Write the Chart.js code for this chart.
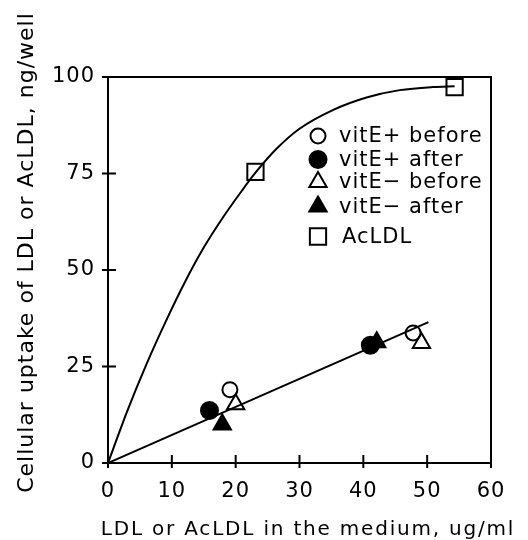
<!DOCTYPE html>
<html>
<head>
<meta charset="utf-8">
<script src="https://cdn.jsdelivr.net/npm/chart.js@4.4.0/dist/chart.umd.min.js"></script>
<style>
  html, body { margin: 0; padding: 0; background: #fff; }
  #wrap { width: 528px; height: 540px; }
</style>
</head>
<body>
<div id="wrap"><canvas id="chart" width="528" height="540"></canvas></div>
<script>
// axis ticks
const xTickValues = [0, 10, 20, 30, 40, 50, 60];
const yTickValues = [0, 25, 50, 75, 100];

const xTitle = "LDL or AcLDL in the medium, ug/ml";
const yTitle = "Cellular uptake of LDL or AcLDL, ng/well";

const legendLabels = ["vitE+ before", "vitE+ after", "vitE\u2212 before", "vitE\u2212 after", "AcLDL"];

const vitEPlusBeforeX = [19.1, 47.8];
const vitEPlusBeforeY = [19.0, 33.7];
const vitEPlusAfterX = [15.9, 41.1];
const vitEPlusAfterY = [13.6, 30.5];
const vitEMinusBeforeX = [20.0, 49.1];
const vitEMinusBeforeY = [15.2, 31.1];
const vitEMinusAfterX = [17.9, 42.1];
const vitEMinusAfterY = [10.0, 31.3];
const acLdlX = [23.1, 54.3];
const acLdlY = [75.4, 97.4];

// fitted lines as drawn in the figure
const ldlFitX = [0, 50.2];
const ldlFitY = [0, 36.5];
const acLdlCurveX = [0, 3, 6, 9, 12, 15, 18, 21, 23.1, 26.4, 30, 35.3, 40.5, 45.7, 50.9, 54.3];
const acLdlCurveY = [0, 13.4, 25.5, 36.5, 46.7, 55.8, 63.6, 70.6, 75.2, 81.4, 86.6, 91.5, 94.7, 96.6, 97.4, 97.6];

const pts = (xs, ys) => xs.map((x, i) => ({ x, y: ys[i] }));

Chart.defaults.font.family = "'DejaVu Sans', sans-serif";
Chart.defaults.color = "#000";

// marker styles shared by the plot and the legend
const markerStyles = [
  { pointStyle: "circle", radius: 7.5, fill: false },
  { pointStyle: "circle", radius: 8.5, fill: true },
  { pointStyle: "triangle", radius: 10, fill: false },
  { pointStyle: "triangle", radius: 10, fill: true },
  { pointStyle: "rect", radius: 11.5, fill: false },
];

const markerSeries = [
  pts(vitEPlusBeforeX, vitEPlusBeforeY),
  pts(vitEPlusAfterX, vitEPlusAfterY),
  pts(vitEMinusBeforeX, vitEMinusBeforeY),
  pts(vitEMinusAfterX, vitEMinusAfterY),
  pts(acLdlX, acLdlY),
];

const markerDatasets = markerSeries.map((data, i) => ({
  label: legendLabels[i],
  data,
  pointStyle: markerStyles[i].pointStyle,
  pointRadius: markerStyles[i].radius,
  pointBackgroundColor: markerStyles[i].fill ? "#000" : "rgba(0,0,0,0)",
  pointBorderColor: "#000",
  pointBorderWidth: 2,
  showLine: false,
}));

const frameAndLegend = {
  id: "frameAndLegend",
  beforeDraw(chart) {
    chart.ctx.letterSpacing = "1px";
  },
  afterDraw(chart) {
    const { ctx, chartArea: a, scales: { x, y } } = chart;
    ctx.save();
    ctx.strokeStyle = "#000";
    ctx.lineWidth = 2;
    ctx.strokeRect(a.left, a.top, a.right - a.left, a.bottom - a.top);

    // ticks crossing the axes
    ctx.beginPath();
    x.ticks.forEach((t) => {
      const px = x.getPixelForValue(t.value);
      ctx.moveTo(px, a.bottom - 8);
      ctx.lineTo(px, a.bottom + 5);
    });
    y.ticks.forEach((t) => {
      const py = y.getPixelForValue(t.value);
      ctx.moveTo(a.left - 6, py);
      ctx.lineTo(a.left + 8, py);
    });
    ctx.stroke();

    // legend inside the plot
    const rows = [136, 159.5, 182, 206.5, 236.5];
    ctx.font = "21px 'DejaVu Sans', sans-serif";
    ctx.textAlign = "left";
    ctx.textBaseline = "middle";
    legendLabels.forEach((label, i) => {
      const s = markerStyles[i];
      ctx.fillStyle = s.fill ? "#000" : "rgba(0,0,0,0)";
      ctx.strokeStyle = "#000";
      ctx.lineWidth = 2;
      Chart.helpers.drawPoint(ctx, { pointStyle: s.pointStyle, radius: s.radius, borderWidth: 2, rotation: 0 }, 318, rows[i]);
      ctx.fillStyle = "#000";
      ctx.fillText(label, i === 4 ? 342 : 339, rows[i] + 1);
    });

    // axis titles
    ctx.textAlign = "center";
    ctx.textBaseline = "alphabetic";
    ctx.letterSpacing = "1.8px";
    ctx.font = "20px 'DejaVu Sans', sans-serif";
    ctx.fillText(xTitle, 308, 535);

    ctx.letterSpacing = "1px";
    ctx.font = "22px 'DejaVu Sans', sans-serif";
    ctx.translate(32.5, 252.5);
    ctx.rotate(-Math.PI / 2);
    ctx.fillText(yTitle, 0, 0);
    ctx.restore();
  },
};

new Chart(document.getElementById("chart"), {
  type: "scatter",
  data: {
    datasets: [
      ...markerDatasets,
      {
        label: "LDL fit",
        data: pts(ldlFitX, ldlFitY),
        showLine: true,
        borderColor: "#000",
        borderWidth: 2,
        pointRadius: 0,
      },
      {
        label: "AcLDL fit",
        data: pts(acLdlCurveX, acLdlCurveY),
        showLine: true,
        cubicInterpolationMode: "monotone",
        borderColor: "#000",
        borderWidth: 2,
        pointRadius: 0,
      },
    ],
  },
  options: {
    responsive: false,
    animation: false,
    devicePixelRatio: 1,
    layout: { padding: { left: 0, right: 37, top: 77, bottom: 0 } },
    plugins: {
      legend: { display: false },
      tooltip: { enabled: false },
    },
    scales: {
      x: {
        type: "linear",
        min: 0,
        max: 60,
        afterBuildTicks: (s) => { s.ticks = xTickValues.map((v) => ({ value: v })); },
        afterFit: (s) => { s.height = 77; },
        ticks: { font: { size: 21 }, padding: 16, color: "#000" },
        grid: { display: false, drawTicks: false },
        border: { display: false },
      },
      y: {
        type: "linear",
        min: 0,
        max: 100,
        afterBuildTicks: (s) => { s.ticks = yTickValues.map((v) => ({ value: v })); },
        afterFit: (s) => { s.width = 108; },
        ticks: { font: { size: 21 }, padding: 13, color: "#000" },
        grid: { display: false, drawTicks: false },
        border: { display: false },
      },
    },
  },
  plugins: [frameAndLegend],
});
</script>
</body>
</html>
